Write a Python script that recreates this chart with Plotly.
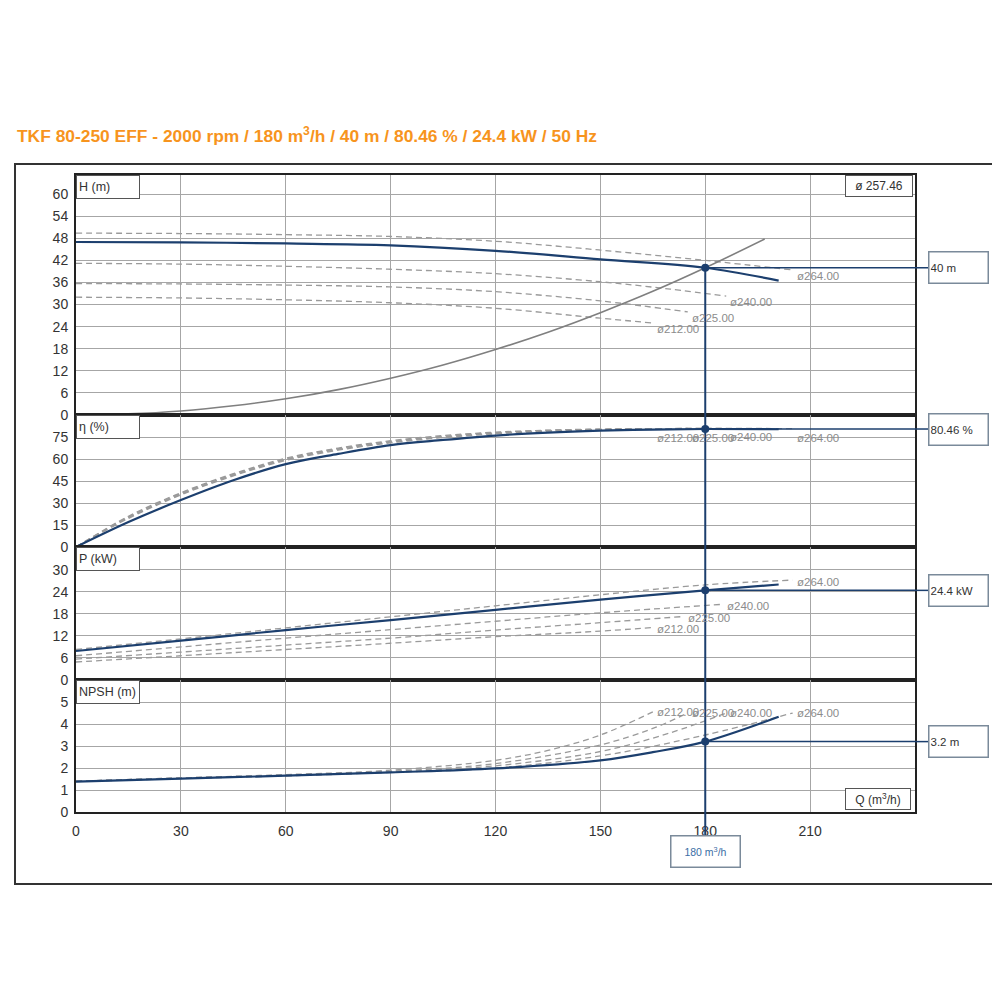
import plotly.graph_objects as go

# --- values ---
X_TICKS = [0, 30, 60, 90, 120, 150, 180, 210]
X_MAX = 240

H_TICKS = [0, 6, 12, 18, 24, 30, 36, 42, 48, 54, 60]
ETA_TICKS = [0, 15, 30, 45, 60, 75]
P_TICKS = [0, 6, 12, 18, 24, 30]
NPSH_TICKS = [0, 1, 2, 3, 4, 5]

# operating point
Q_OP = 180
H_OP = 40
ETA_OP = 80.46
P_OP = 24.4
NPSH_OP = 3.2

# head H (m)
q_h_main = [0, 30, 60, 90, 120, 150, 180, 201]
h_main = [47.0, 46.9, 46.6, 46.1, 44.6, 42.3, 40.0, 36.5]
q_h_212 = [0, 30, 60, 90, 120, 150, 165]
h_212 = [32.0, 31.8, 31.3, 30.5, 29.0, 26.3, 25.0]
q_h_225 = [0, 30, 60, 90, 120, 150, 175]
h_225 = [35.7, 35.6, 35.3, 34.8, 33.5, 31.0, 28.0]
q_h_240 = [0, 30, 60, 90, 120, 150, 170, 186]
h_240 = [41.2, 41.0, 40.4, 39.6, 38.4, 36.2, 34.2, 32.3]
q_h_264 = [0, 30, 60, 90, 120, 150, 180, 205]
h_264 = [49.4, 49.3, 49.0, 48.5, 47.2, 44.8, 42.0, 39.4]
# system curve
q_sys = [0, 15, 30, 45, 60, 75, 90, 105, 120, 135, 150, 165, 180, 197]
h_sys = [0, 0.3, 1.1, 2.5, 4.4, 6.9, 10.0, 13.6, 17.8, 22.5, 27.8, 33.6, 40.0, 47.8]

# efficiency eta (%)
q_e_main = [0, 15, 30, 45, 60, 75, 90, 105, 120, 135, 150, 165, 180, 201]
e_main = [0, 17, 32, 45.5, 56.5, 63.5, 69.5, 73, 76, 78, 79.3, 80.1, 80.46, 80.3]
q_e_212 = [0, 15, 30, 45, 60, 75, 90, 105, 120, 135, 150, 165]
e_212 = [0, 21, 37, 50, 60.5, 67.5, 72.5, 76, 78.3, 79.7, 80.4, 80.7]
q_e_225 = [0, 15, 30, 45, 60, 75, 90, 105, 120, 135, 150, 165, 175]
e_225 = [0, 20.5, 36.5, 49.5, 60, 67, 72, 75.5, 78, 79.5, 80.3, 80.7, 80.8]
q_e_240 = [0, 15, 30, 45, 60, 75, 90, 105, 120, 135, 150, 165, 186]
e_240 = [0, 20, 36, 49, 59.5, 66.5, 71.5, 75, 77.6, 79.3, 80.2, 80.7, 80.9]
q_e_264 = [0, 15, 30, 45, 60, 75, 90, 105, 120, 135, 150, 165, 180, 205]
e_264 = [0, 19.5, 35.5, 48.5, 59, 66, 71, 74.6, 77.2, 79, 80, 80.6, 80.9, 80.7]

# power P (kW)
q_p_main = [0, 30, 60, 90, 120, 150, 180, 201]
p_main = [7.9, 10.7, 13.6, 16.3, 19.1, 21.9, 24.4, 26.0]
q_p_212 = [0, 30, 60, 90, 120, 150, 165]
p_212 = [4.9, 6.6, 8.3, 10.0, 11.8, 13.3, 14.3]
q_p_225 = [0, 30, 60, 90, 120, 150, 174]
p_225 = [5.7, 7.6, 9.5, 11.4, 13.6, 15.6, 17.3]
q_p_240 = [0, 30, 60, 90, 120, 150, 185]
p_240 = [6.6, 9.0, 11.4, 13.7, 16.0, 18.3, 20.6]
q_p_264 = [0, 30, 60, 90, 120, 150, 180, 205]
p_264 = [8.3, 11.2, 14.2, 17.2, 20.2, 23.2, 25.9, 27.2]

# NPSH (m)
q_n_main = [0, 30, 60, 90, 120, 150, 165, 180, 201]
n_main = [1.38, 1.52, 1.65, 1.8, 1.98, 2.35, 2.72, 3.2, 4.33]
q_n_212 = [0, 30, 60, 90, 120, 135, 150, 165]
n_212 = [1.4, 1.55, 1.7, 1.9, 2.35, 2.8, 3.5, 4.55]
q_n_225 = [0, 30, 60, 90, 120, 150, 165, 175]
n_225 = [1.4, 1.55, 1.68, 1.85, 2.2, 3.05, 3.8, 4.5]
q_n_240 = [0, 30, 60, 90, 120, 150, 170, 186]
n_240 = [1.4, 1.54, 1.66, 1.82, 2.1, 2.75, 3.6, 4.5]
q_n_264 = [0, 30, 60, 90, 120, 150, 180, 205]
n_264 = [1.38, 1.52, 1.64, 1.8, 2.0, 2.55, 3.5, 4.5]

TITLE = ("TKF 80-250 EFF - 2000 rpm / 180 m<sup>3</sup>/h / 40 m / "
         "80.46 % / 24.4 kW / 50 Hz")

NAVY = "#1c3f6e"
GREY_DASH = "#9a9a9a"
FONT = "Liberation Sans, Arial, sans-serif"

# panel setup: axis suffix, domain, range, ticks, label, value at op point, box text, label shift
panels = [
    ("", [0.6232, 1.0], [0, 65.2], H_TICKS, "H (m)", H_OP, "40 m", -6),
    ("2", [0.4160, 0.6232], [0, 90], ETA_TICKS, "η (%)", ETA_OP, "80.46 %", -9),
    ("3", [0.2072, 0.4160], [0, 36.2], P_TICKS, "P (kW)", P_OP, "24.4 kW", -2),
    ("4", [0.0, 0.2072], [0, 6], NPSH_TICKS, "NPSH (m)", NPSH_OP, "3.2 m", 0),
]

curves = [
    # (panel index, q, values, label)
    (0, q_h_212, h_212, "ø212.00"), (0, q_h_225, h_225, "ø225.00"),
    (0, q_h_240, h_240, "ø240.00"), (0, q_h_264, h_264, "ø264.00"),
    (1, q_e_212, e_212, "ø212.00"), (1, q_e_225, e_225, "ø225.00"),
    (1, q_e_240, e_240, "ø240.00"), (1, q_e_264, e_264, "ø264.00"),
    (2, q_p_212, p_212, "ø212.00"), (2, q_p_225, p_225, "ø225.00"),
    (2, q_p_240, p_240, "ø240.00"), (2, q_p_264, p_264, "ø264.00"),
    (3, q_n_212, n_212, "ø212.00"), (3, q_n_225, n_225, "ø225.00"),
    (3, q_n_240, n_240, "ø240.00"), (3, q_n_264, n_264, "ø264.00"),
]
mains = [(0, q_h_main, h_main), (1, q_e_main, e_main),
         (2, q_p_main, p_main), (3, q_n_main, n_main)]

fig = go.Figure()
annotations = []
shapes = []

# dashed curves for the other impeller diameters
for idx, q, v, lab in curves:
    suf = panels[idx][0]
    fig.add_trace(go.Scatter(
        x=q, y=v, mode="lines", xaxis="x" + suf, yaxis="y" + suf,
        line=dict(color=GREY_DASH, width=1.3, dash="6px,4px", shape="spline"),
        hoverinfo="skip"))
    annotations.append(dict(
        x=q[-1], y=v[-1], xref="x" + suf, yref="y" + suf, text=lab,
        showarrow=False, xanchor="left", yanchor="middle", xshift=2,
        yshift=panels[idx][7], font=dict(size=11.5, color="#8c8c8c", family=FONT)))

# system curve
fig.add_trace(go.Scatter(x=q_sys, y=h_sys, mode="lines", xaxis="x", yaxis="y",
                         line=dict(color="#7f7f7f", width=1.6, shape="spline"),
                         hoverinfo="skip"))

# main curves (trimmed impeller)
for idx, q, v in mains:
    suf = panels[idx][0]
    fig.add_trace(go.Scatter(
        x=q, y=v, mode="lines", xaxis="x" + suf, yaxis="y" + suf,
        line=dict(color=NAVY, width=2.2, shape="spline")))

# operating point
BOX_X = 1.0155
for suf, dom, rng, ticks, lab, val, boxtxt, _ in panels:
    fig.add_trace(go.Scatter(
        x=[Q_OP], y=[val], mode="markers", xaxis="x" + suf, yaxis="y" + suf,
        marker=dict(color=NAVY, size=8), cliponaxis=False))
    shapes.append(dict(type="line", xref="x" + suf, yref="y" + suf,
                       x0=Q_OP, x1=X_MAX, y0=val, y1=val,
                       line=dict(color=NAVY, width=1.5)))
    shapes.append(dict(type="line", xref="paper", yref="y" + suf,
                       x0=1, x1=BOX_X, y0=val, y1=val,
                       line=dict(color=NAVY, width=1.5)))
    annotations.append(dict(
        x=BOX_X, y=val, xref="paper", yref="y" + suf, text=boxtxt,
        showarrow=False, xanchor="left", yanchor="middle", align="left",
        width=56, height=28, borderpad=1, bgcolor="white",
        bordercolor="#7a8a9a", borderwidth=1.5,
        font=dict(size=11.5, color="#333333", family=FONT)))
    # panel name box
    annotations.append(dict(
        x=0, y=1, xref="paper", yref="y%s domain" % suf, text=lab,
        showarrow=False, xanchor="left", yanchor="top", align="left",
        width=58, height=18, borderpad=2, bgcolor="white",
        bordercolor="#555555", borderwidth=1,
        font=dict(size=12.5, color="#333333", family=FONT)))

# vertical line at the duty flow
shapes.append(dict(type="line", xref="x", yref="y", x0=Q_OP, x1=Q_OP,
                   y0=0, y1=H_OP, line=dict(color=NAVY, width=2)))
shapes.append(dict(type="line", xref="x", yref="paper", x0=Q_OP, x1=Q_OP,
                   y0=-0.0361, y1=panels[0][1][0], line=dict(color=NAVY, width=2)))
annotations.append(dict(
    x=Q_OP, y=-0.0361, xref="x4", yref="paper", text="180 m<sup>3</sup>/h",
    showarrow=False, xanchor="center", yanchor="top", width=66, height=28,
    borderpad=1, bgcolor="white", bordercolor="#7a8a9a", borderwidth=1.5,
    font=dict(size=10.5, color="#3a6ea5", family=FONT)))

# diameter box and Q box
annotations.append(dict(
    x=1, y=1, xref="paper", yref="paper", text="ø 257.46", showarrow=False,
    xanchor="right", yanchor="top", xshift=-2, width=66, height=20, borderpad=0,
    bgcolor="white", bordercolor="#555555", borderwidth=1,
    font=dict(size=12, color="#333333", family=FONT)))
annotations.append(dict(
    x=1, y=0, xref="paper", yref="paper", text="Q (m<sup>3</sup>/h)",
    showarrow=False, xanchor="right", yanchor="bottom", xshift=-4, yshift=2,
    width=64, height=20, borderpad=0, bgcolor="white",
    bordercolor="#555555", borderwidth=1,
    font=dict(size=12, color="#333333", family=FONT)))

# title
annotations.append(dict(
    x=-0.0727, y=1.0628, xref="paper", yref="paper", text="<b>" + TITLE + "</b>",
    showarrow=False, xanchor="left", yanchor="middle",
    font=dict(size=17.4, color="#f7941d", family=FONT)))

# outer frame
shapes.append(dict(type="rect", xref="paper", yref="paper",
                   x0=-0.0727, x1=1.1001, y0=-0.113, y1=1.0173,
                   line=dict(color="#333333", width=2), layer="below"))

layout = dict(
    width=1000, height=1000,
    # the page body adds ~8 px, so margins are set 8 px smaller on top/left
    margin=dict(l=68, r=93, t=167, b=196),
    paper_bgcolor="white", plot_bgcolor="white",
    showlegend=False, hovermode=False,
    font=dict(family=FONT, size=14, color="#333333"),
    annotations=annotations, shapes=shapes,
)
for suf, dom, rng, ticks, lab, val, boxtxt, _ in panels:
    layout["xaxis" + suf] = dict(
        domain=[0, 1], range=[0, X_MAX], anchor="y" + suf,
        tickvals=X_TICKS, showticklabels=(suf == "4"),
        showgrid=True, gridcolor="#a6a6a6", gridwidth=1, zeroline=False,
        showline=True, linecolor="#222222", linewidth=2, mirror=True,
        ticks="", ticklabelstandoff=5, tickfont=dict(size=14, color="#333333"),
        **({} if suf == "" else {"matches": "x"}))
    layout["yaxis" + suf] = dict(
        domain=dom, range=rng, anchor="x" + suf, tickvals=ticks,
        showgrid=True, gridcolor="#a6a6a6", gridwidth=1, zeroline=False,
        showline=True, linecolor="#222222", linewidth=2, mirror=True,
        ticks="", ticklabelstandoff=3, tickfont=dict(size=14, color="#333333"))

fig.update_layout(**layout)
fig.write_html("out.html")
